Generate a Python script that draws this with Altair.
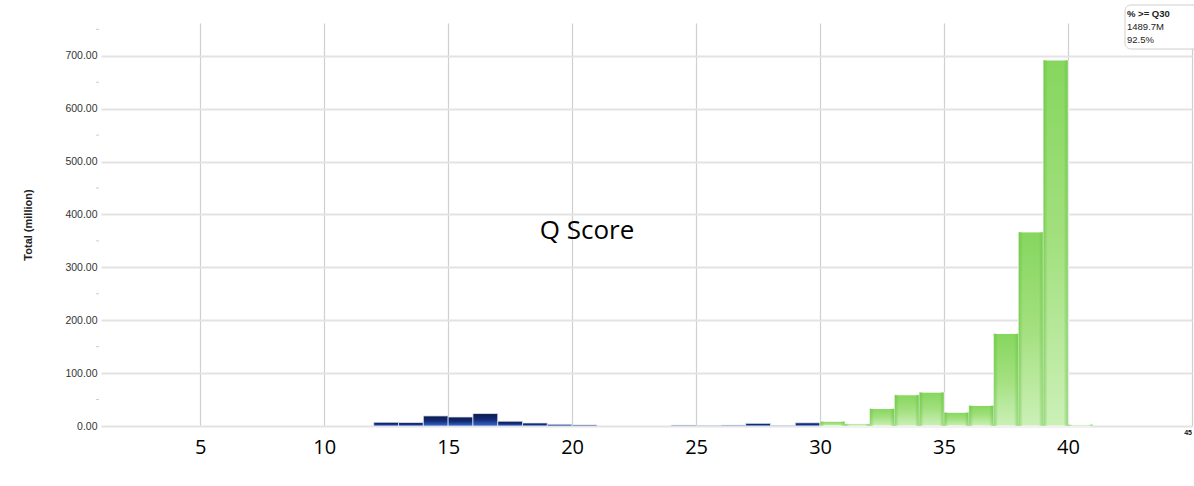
import altair as alt
import pandas as pd

# Quality-score histogram: reads (million) per Q bin
q_bins = [12, 13, 14, 15, 16, 17, 18, 19, 20, 24, 25, 26, 27, 28, 29,
          30, 31, 32, 33, 34, 35, 36, 37, 38, 39, 40]
totals = [7, 6.5, 19, 17, 23.5, 9, 5.7, 3.2, 2, 1.5, 1, 1.5, 5, 1, 6,
          9, 4, 33, 59, 64, 26, 39, 175, 367, 692, 3]

x_ticks = [5, 10, 15, 20, 25, 30, 35, 40, 45]
y_ticks = [0, 100, 200, 300, 400, 500, 600, 700]
y_minor = [50, 150, 250, 350, 450, 550, 650, 750]

q30_lines = ["% >= Q30", "1489.7M", "92.5%"]
center_label = "Q Score"

W, H = 1091, 403

df = pd.DataFrame({"q": q_bins, "total": totals})
df["q_end"] = df["q"] + 1

x_scale = alt.Scale(domain=[1, 45], nice=False, zero=False)
y_scale = alt.Scale(domain=[0, 762], nice=False)

blue_fill = alt.Gradient(
    gradient="linear", x1=0, y1=0, x2=0, y2=1,
    stops=[alt.GradientStop(color="#0b1848", offset=0),
           alt.GradientStop(color="#142c78", offset=0.5),
           alt.GradientStop(color="#3a6ad0", offset=1)],
)
green_fill = alt.Gradient(
    gradient="linear", x1=0, y1=0, x2=0, y2=1,
    stops=[alt.GradientStop(color="#86d65e", offset=0),
           alt.GradientStop(color="#a3e07f", offset=0.5),
           alt.GradientStop(color="#ccf0b8", offset=1)],
)
edge_shade = alt.Gradient(
    gradient="linear", x1=0, y1=0, x2=1, y2=0,
    stops=[alt.GradientStop(color="rgba(90,190,50,0.55)", offset=0),
           alt.GradientStop(color="rgba(90,190,50,0)", offset=0.18),
           alt.GradientStop(color="rgba(90,190,50,0)", offset=0.82),
           alt.GradientStop(color="rgba(90,190,50,0.55)", offset=1)],
)

x_enc = alt.X(
    "q:Q", scale=x_scale, title=None,
    axis=alt.Axis(
        values=x_ticks, labelExpr="datum.value == 45 ? '' : datum.label",
        labelFontSize=20, labelFont="Open Sans", labelColor="#000000",
        labelPadding=11, ticks=False, domain=False,
        grid=True, gridColor="#cfcfcf", gridWidth=1.2,
    ),
)
y_enc = alt.Y(
    "total:Q", scale=y_scale,
    axis=alt.Axis(
        values=y_ticks, format=".2f", title="Total (million)",
        titleFont="Liberation Sans", titleFontSize=11, titleFontWeight="bold",
        titleColor="#222222", titlePadding=31,
        labelFont="Liberation Sans", labelFontSize=10.5, labelColor="#333333",
        labelPadding=4, ticks=False, domain=False,
        grid=True, gridColor="#e3e3e3", gridWidth=2,
    ),
)
x_plain = alt.X("q:Q", scale=x_scale)
y_plain = alt.Y("total:Q", scale=y_scale)
zero = alt.Y2(datum=0)

base = alt.Chart(df)

low = base.transform_filter("datum.q < 30").mark_bar(
    color=blue_fill, stroke="#dfe6f2", strokeWidth=0.8
).encode(x=x_enc, x2="q_end:Q", y=y_enc, y2=zero)

high = base.transform_filter("datum.q >= 30").mark_bar(
    color=green_fill, stroke="#ffffff", strokeWidth=1
).encode(x=x_plain, x2="q_end:Q", y=y_plain, y2=zero)

high_edges = base.transform_filter("datum.q >= 30").mark_bar(
    color=edge_shade
).encode(x=x_plain, x2="q_end:Q", y=y_plain, y2=zero)

minor_ticks = alt.Chart(pd.DataFrame({"v": y_minor})).mark_rule(
    color="#cccccc", strokeWidth=1
).encode(y=alt.Y("v:Q", scale=y_scale), x=alt.value(-5), x2=alt.value(-2))

end_label = alt.Chart(pd.DataFrame({"v": [x_ticks[-1]], "t": [str(x_ticks[-1])]})).mark_text(
    font="Liberation Sans", fontSize=7, fontWeight="bold", color="#111111",
    align="right", baseline="top"
).encode(x=alt.X("v:Q", scale=x_scale), y=alt.value(H + 3), text="t:N")

title_text = alt.Chart(pd.DataFrame({"t": [center_label]})).mark_text(
    font="Open Sans", fontSize=26, color="#000000", align="center", baseline="middle"
).encode(x=alt.value(486), y=alt.value(208), text="t:N")

box = alt.Chart(pd.DataFrame({"k": [0]})).mark_rect(
    fill="#ffffff", stroke="#cfcfcf", strokeWidth=1, cornerRadius=6
).encode(x=alt.value(W - 67), x2=alt.value(W + 30), y=alt.value(-18), y2=alt.value(26))

# summary box text, one line per layer
box_layers = []
for i, line in enumerate(q30_lines):
    box_layers.append(
        alt.Chart(pd.DataFrame({"t": [line]})).mark_text(
            font="Liberation Sans", fontSize=9.5,
            fontWeight="bold" if i == 0 else "normal", color="#222222",
            align="left", baseline="middle"
        ).encode(x=alt.value(W - 65), y=alt.value(-9 + 13 * i), text="t:N")
    )

chart = alt.layer(
    low, high, high_edges, minor_ticks, end_label, title_text, box, *box_layers
).properties(
    width=W, height=H,
    autosize=alt.AutoSizeParams(type="none"),
    padding={"left": 101, "top": 23, "right": 2, "bottom": 60},
    background="#ffffff",
).configure_view(stroke=None)

chart.save("out.html", embed_options={"renderer": "svg", "actions": False})
